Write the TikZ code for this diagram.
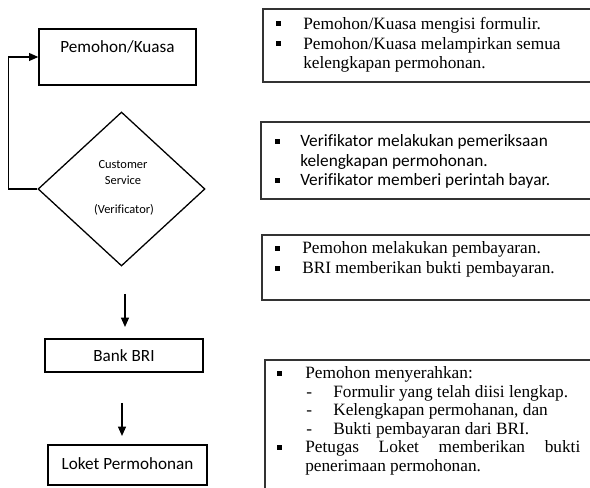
\documentclass[tikz,border=0pt]{standalone}
\usepackage{fontspec}
\setmainfont{Liberation Serif}
\newfontfamily\calfont[Ligatures=NoCommon]{Carlito}
\usetikzlibrary{arrows.meta,shapes.geometric}
\begin{document}
\begin{tikzpicture}[x=0.7pt,y=-0.7pt,
  box/.style={draw=black,line width=0.9pt,inner sep=0pt},
  tbox/.style={draw=black!80,line width=0.9pt},
  lbl/.style={font=\calfont\fontsize{12}{14}\selectfont,inner sep=0pt},
  small/.style={font=\calfont\fontsize{8.7}{10}\selectfont,inner sep=0pt,anchor=base},
  tline/.style={font=\fontsize{12.1}{14}\selectfont,inner sep=0pt,anchor=base west},
  cline/.style={font=\calfont\fontsize{12.1}{14}\selectfont,inner sep=0pt,anchor=base west},
  arr/.style={line width=0.9pt,-{Triangle[length=6.5pt,width=5.5pt]}},
  bul/.style={fill=black}]
\useasboundingbox (0,0) rectangle (590,488);
\clip (0,0) rectangle (590,488);
\fill[white] (0,0) rectangle (590,488);

% ---------- left flow ----------
\node[box,minimum width=157*0.7pt,minimum height=56*0.7pt] (pk) at (117.5,57) {};
\node[lbl,anchor=base] (pkt) at (117.5,53) {Pemohon/Kuasa};

\node[box,diamond,minimum width=167*0.7pt,minimum height=154*0.7pt] (cs) at (121.5,189) {};
\node[small] (cs1) at (123,169) {Customer};
\node[small] (cs2) at (123,185) {Service};
\node[small] (cs3) at (124,214) {(Verificator)};

\draw[arr] (cs.west) -- ++(-29,0) |- (pk.west);

\node[box,lbl,minimum width=158*0.7pt,minimum height=33*0.7pt] (bri) at (124,355.5) {Bank BRI};
\node[box,lbl,minimum width=159*0.7pt,minimum height=40*0.7pt] (lp) at (127.5,465) {\raisebox{2.5pt}{Loket Permohonan}};

\coordinate (a1s) at (125,294);
\coordinate (a1e) at (125,327);
\draw[arr] (a1s) -- (a1e);
\coordinate (a2s) at (122,403);
\coordinate (a2e) at (122,436);
\draw[arr] (a2s) -- (a2e);

% ---------- right boxes ----------
\draw[tbox] (263,9) rectangle (600,82);
\fill[bul] (275.5,21.5) rectangle (280.5,26.5);
\fill[bul] (275.5,41) rectangle (280.5,46);
\node[tline] (r1a) at (303,30) {Pemohon/Kuasa mengisi formulir.};
\node[tline] (r1b) at (303,49.5) {Pemohon/Kuasa melampirkan semua};
\node[tline] (r1c) at (303,69) {kelengkapan permohonan.};

\draw[tbox] (261,122) rectangle (600,199);
\fill[bul] (274.5,139.5) rectangle (279.5,144.5);
\fill[bul] (274.5,178.5) rectangle (279.5,183.5);
\node[cline] (r2a) at (300,147) {Verifikator melakukan pemeriksaan};
\node[cline] (r2b) at (300,166.5) {kelengkapan permohonan.};
\node[cline] (r2c) at (300,186) {Verifikator memberi perintah bayar.};

\draw[tbox] (262,235) rectangle (600,300);
\fill[bul] (274.5,246.5) rectangle (279.5,251.5);
\fill[bul] (274.5,266) rectangle (279.5,271);
\node[tline] (r3a) at (302,254) {Pemohon melakukan pembayaran.};
\node[tline] (r3b) at (302,273.5) {BRI memberikan bukti pembayaran.};

\draw[tbox] (265,360) rectangle (600,520);
\fill[bul] (276.5,371.5) rectangle (281.5,376.5);
\fill[bul] (276.5,445.5) rectangle (281.5,450.5);
\node[tline] (r4a) at (305,379) {Pemohon menyerahkan:};
\node[tline] (r4d1) at (306,397.5) {-};
\node[tline] (r4b) at (333,397.5) {Formulir yang telah diisi lengkap.};
\node[tline] (r4d2) at (306,416) {-};
\node[tline] (r4c) at (333,416) {Kelengkapan permohanan, dan};
\node[tline] (r4d3) at (306,434.5) {-};
\node[tline] (r4d) at (333,434.5) {Bukti pembayaran dari BRI.};
\node[tline] (r4e) at (305,453) {\makebox[192.5pt][s]{Petugas\hfill Loket\hfill memberikan\hfill bukti}};
\node[tline] (r4f) at (305,471.5) {penerimaan permohonan.};
\end{tikzpicture}
\end{document}
